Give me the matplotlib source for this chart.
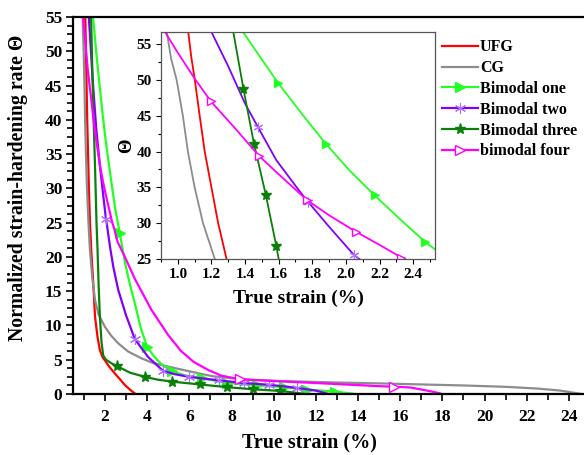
import matplotlib
matplotlib.use("Agg")
import matplotlib.pyplot as plt
from matplotlib.ticker import MultipleLocator, AutoMinorLocator, FormatStrFormatter
from matplotlib.lines import Line2D

plt.rcParams['font.family'] = ['Liberation Serif', 'DejaVu Serif']
plt.rcParams['font.weight'] = 'bold'

# Data (true strain %, normalized strain-hardening rate)
ufg_x = [1.05, 1.062, 1.08, 1.10, 1.13, 1.16, 1.20, 1.24, 1.29, 1.35, 1.45, 1.53, 1.65, 1.76,
         1.9, 2.0, 2.2, 2.47, 2.7, 2.95, 3.2, 3.45]
ufg_y = [58.5, 56.7, 53.2, 50.2, 45, 40, 35, 30, 25, 21, 16, 11.3, 8.3, 6.4,
         5.3, 4.9, 4.0, 3.0, 2.2, 1.3, 0.6, 0.0]

cg_x = [0.92, 0.934, 0.96, 0.993, 1.03, 1.06, 1.10, 1.15, 1.22, 1.29, 1.4, 1.53, 1.7, 2.0, 2.3,
        2.63, 3.1, 3.74, 4.3, 5.0, 6.1, 7.1, 8.5, 10.3, 12.7, 15.0, 17, 19, 21, 22.5, 23.6, 24.6]
cg_y = [58.5, 56.7, 53, 50, 45, 40, 35, 30, 25, 21, 17, 13.7, 11.6, 9.8, 8.5,
        7.4, 6.2, 5.2, 4.5, 4.0, 3.25, 2.6, 2.15, 1.9, 1.7, 1.55, 1.4, 1.25, 1.05, 0.8, 0.5, 0.0]

one_x = [1.33, 1.388, 1.49, 1.596, 1.74, 1.88, 2.02, 2.17, 2.32, 2.47, 2.55, 2.7, 2.95, 3.2, 3.42,
         3.7, 4.0, 4.35, 4.7, 5.2, 5.8, 6.6, 7.8, 9.2, 10.5, 11.6, 12.9, 13.5, 13.9]
one_y = [58.5, 56.7, 53.2, 49.6, 45.2, 41.1, 37.4, 33.9, 30.6, 27.4, 26.0, 23.5, 19.2, 15.8, 13.2,
         9.6, 6.9, 5.4, 4.3, 3.3, 2.7, 2.3, 1.6, 1.3, 1.0, 0.65, 0.35, 0.15, 0.0]
one_mx_in = [1.596, 1.88, 2.17, 2.47]
one_my_in = [49.6, 41.1, 33.9, 27.4]
one_mx = [2.7, 4.0, 5.2, 6.6, 7.8, 9.2, 10.5, 11.6, 12.9]
one_my = [23.5, 6.9, 3.3, 2.3, 1.6, 1.3, 1.0, 0.65, 0.35]

two_x = [1.17, 1.2, 1.30, 1.40, 1.477, 1.586, 1.72, 1.774, 1.90, 2.05, 2.08, 2.24, 2.4, 2.63, 3.0,
         3.42, 4.05, 4.75, 5.3, 6.0, 7.4, 8.6, 9.8, 11.1, 12.0, 12.6]
two_y = [58.5, 56.7, 51.9, 46.7, 43.4, 38.8, 34.6, 33.0, 29.5, 25.5, 25.0, 21.5, 18.5, 15.2, 11.5,
         8.0, 5.4, 3.4, 2.9, 2.5, 2.0, 1.6, 1.35, 0.9, 0.5, 0.0]
two_mx_in = [1.477, 1.774, 2.05]
two_my_in = [43.4, 33.0, 25.5]
two_mx = [2.05, 3.42, 4.75, 6.0, 7.4, 8.6, 9.8, 11.1]
two_my = [25.5, 8.0, 3.4, 2.5, 2.0, 1.6, 1.35, 0.9]

three_x = [1.31, 1.33, 1.39, 1.453, 1.523, 1.586, 1.60, 1.65, 1.70, 1.76, 1.84, 1.92, 2.05, 2.3,
           2.55, 3.2, 3.9, 4.5, 5.2, 6.5, 7.8, 9.0, 10.3, 11.0, 11.5]
three_y = [58.5, 56.7, 48.8, 41.1, 34.0, 26.8, 25, 21, 16, 11.3, 7.5, 5.6, 5.0, 4.5,
           4.1, 3.1, 2.5, 2.1, 1.8, 1.4, 1.0, 0.7, 0.45, 0.2, 0.0]
three_mx_in = [1.39, 1.453, 1.523, 1.586]
three_my_in = [48.8, 41.1, 34.0, 26.8]
three_mx = [2.55, 3.9, 5.2, 6.5, 7.8, 9.0, 10.3]
three_my = [4.1, 2.5, 1.8, 1.4, 1.0, 0.7, 0.45]

four_x = [0.875, 0.924, 1.0, 1.10, 1.197, 1.35, 1.483, 1.606, 1.77, 1.90, 2.06, 2.22, 2.33, 2.45,
          2.6, 2.87, 3.42, 4.2, 5.0, 5.6, 6.2, 6.9, 7.5, 8.4, 10.3, 12.7, 15.0, 15.7, 16.5, 17.1,
          17.6, 18.0]
four_y = [58.5, 56.7, 53.8, 50.2, 47.0, 43.0, 39.4, 36.7, 33.2, 31.1, 28.8, 26.7, 25.2, 24.0,
          22.2, 20.5, 16.8, 12.3, 8.6, 6.3, 4.7, 3.5, 2.7, 2.15, 1.85, 1.5, 1.15, 1.07, 0.95, 0.6,
          0.3, 0.0]
four_mx_in = [1.197, 1.483, 1.77, 2.06, 2.33]
four_my_in = [47.0, 39.4, 33.2, 28.8, 25.2]
four_mx = [8.4, 15.7]
four_my = [2.15, 1.07]

labels = ['UFG', 'CG', 'Bimodal one', 'Bimodal two', 'Bimodal three', 'bimodal four']
colors = ['#ff0000', '#8c8c8c', '#22ff22', '#8000ff', '#0a800a', '#ff00ff']
asterisk = (6, 2, 0)


def draw(ax, lw, ms, mk):
    # mk: marker position lists for this panel
    ax.plot(ufg_x, ufg_y, color=colors[0], lw=lw)
    ax.plot(cg_x, cg_y, color=colors[1], lw=lw)
    ax.plot(one_x, one_y, color=colors[2], lw=lw)
    ax.plot(*mk[0], ls='none', marker='>', color=colors[2], ms=ms)
    ax.plot(two_x, two_y, color=colors[3], lw=lw)
    ax.plot(*mk[1], ls='none', marker=asterisk, color='#b070ff', ms=ms + 1, mew=0.8)
    ax.plot(three_x, three_y, color=colors[4], lw=lw)
    ax.plot(*mk[2], ls='none', marker='*', color=colors[4], ms=ms + 1)
    ax.plot(four_x, four_y, color=colors[5], lw=lw)
    ax.plot(*mk[3], ls='none', marker='>', color=colors[5], mfc='white', ms=ms, mew=1.0)


fig = plt.figure(figsize=(5.84, 4.55), dpi=100)

# main axes
ax = fig.add_axes([0.1255, 0.134, 0.8848, 0.8286])
draw(ax, 1.6, 7, [(one_mx, one_my), (two_mx, two_my), (three_mx, three_my), (four_mx, four_my)])
ax.set_xlim(0.5, 25)
ax.set_ylim(0, 55)
ax.xaxis.set_major_locator(MultipleLocator(2))
ax.xaxis.set_minor_locator(MultipleLocator(1))
ax.yaxis.set_major_locator(MultipleLocator(5))
ax.yaxis.set_minor_locator(AutoMinorLocator(4))
ax.tick_params(which='both', direction='out', width=1.2, labelsize=12.5, pad=3)
ax.tick_params(which='major', length=5)
ax.tick_params(which='minor', length=4)
ax.tick_params(axis='x', pad=6)
for s in ax.spines.values():
    s.set_linewidth(1.6)
ax.spines['right'].set_visible(False)
fig.text(0.53, 0.028, 'True strain (%)', ha='center', va='center', fontsize=14.5, fontweight='bold')
fig.text(0.03, 0.587, 'Normalized strain-hardening rate Θ', ha='center', va='center',
         rotation=90, fontsize=14.2, fontweight='bold')

# inset
axin = fig.add_axes([0.2757, 0.4308, 0.4692, 0.4989])
draw(axin, 1.3, 6, [(one_mx_in, one_my_in), (two_mx_in, two_my_in),
                    (three_mx_in, three_my_in), (four_mx_in, four_my_in)])
axin.set_xlim(0.9, 2.53)
axin.set_ylim(25, 56.7)
axin.xaxis.set_major_locator(MultipleLocator(0.2))
axin.xaxis.set_minor_locator(MultipleLocator(0.1))
axin.yaxis.set_major_locator(MultipleLocator(5))
axin.yaxis.set_minor_locator(MultipleLocator(2.5))
axin.xaxis.set_major_formatter(FormatStrFormatter('%.1f'))
axin.tick_params(which='both', direction='out', width=0.8, labelsize=11, pad=3)
axin.tick_params(which='major', length=3.5)
axin.tick_params(which='minor', length=2.5)
for s in axin.spines.values():
    s.set_linewidth(0.9)
    s.set_color('#555555')
axin.set_xlabel('True strain (%)', fontsize=14, fontweight='bold', labelpad=6)
axin.set_ylabel('Θ', fontsize=13.5, fontweight='bold', labelpad=1)

# legend
handles = [
    Line2D([], [], color=colors[0], lw=1.6),
    Line2D([], [], color=colors[1], lw=1.6),
    Line2D([], [], color=colors[2], lw=1.6, marker='>', ms=7),
    Line2D([], [], color=colors[3], lw=1.6, marker=asterisk, ms=8, mec='#b070ff', mew=0.8),
    Line2D([], [], color=colors[4], lw=1.6, marker='*', ms=8),
    Line2D([], [], color=colors[5], lw=1.6, marker='>', ms=7, mfc='white'),
]
fig.legend(handles, labels, loc='upper left', bbox_to_anchor=(0.733, 0.945), frameon=False,
           handlelength=2.2, handletextpad=0.15, labelspacing=0.3,
           prop={'weight': 'bold', 'size': 11.5})

fig.savefig('out.png', dpi=100)
